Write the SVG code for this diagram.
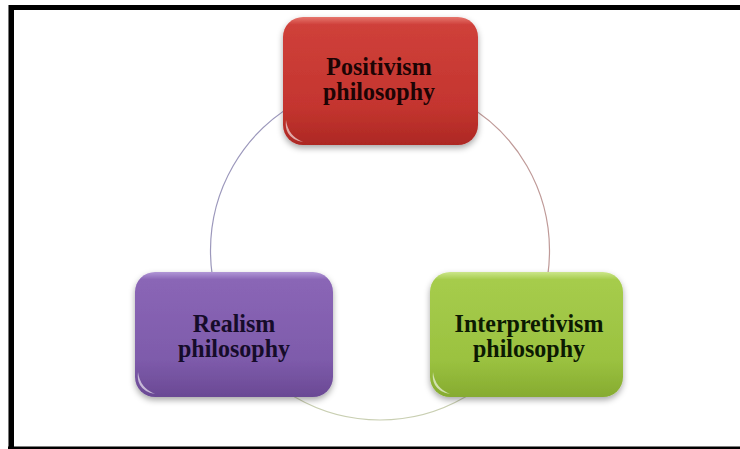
<svg xmlns="http://www.w3.org/2000/svg" width="740" height="449" viewBox="0 0 740 449">
  <defs>
    <linearGradient id="gRed" x1="0" y1="0" x2="0" y2="1">
      <stop offset="0" stop-color="#e6766e"/>
      <stop offset="0.06" stop-color="#cf403a"/>
      <stop offset="0.7" stop-color="#c4352f"/>
      <stop offset="1" stop-color="#ad2824"/>
    </linearGradient>
    <linearGradient id="gGreen" x1="0" y1="0" x2="0" y2="1">
      <stop offset="0" stop-color="#cbe68a"/>
      <stop offset="0.06" stop-color="#a6cc4c"/>
      <stop offset="0.7" stop-color="#9bc240"/>
      <stop offset="1" stop-color="#86ab30"/>
    </linearGradient>
    <linearGradient id="gPurple" x1="0" y1="0" x2="0" y2="1">
      <stop offset="0" stop-color="#b096d6"/>
      <stop offset="0.06" stop-color="#8a66b6"/>
      <stop offset="0.7" stop-color="#7e5bab"/>
      <stop offset="1" stop-color="#6a4994"/>
    </linearGradient>
    <filter id="shadow" x="-10%" y="-10%" width="120%" height="130%">
      <feDropShadow dx="0" dy="3" stdDeviation="3" flood-color="#000" flood-opacity="0.35"/>
    </filter>
  </defs>
  <style>
    .box { filter: url(#shadow); }
    .glint { fill: #ffffff; opacity: 0.6; }
    .label { font-family: "Liberation Serif", "Times New Roman", serif; font-weight: bold; font-size: 24px; text-anchor: middle; }
    .arc { fill: none; stroke-width: 1.2; }
  </style>

  <rect x="0" y="0" width="740" height="449" fill="#ffffff"/>

  <!-- page frame -->
  <g id="frame">
    <rect x="8" y="5" width="732" height="5" fill="#000"/>
    <rect x="9" y="5" width="5" height="444" fill="#000"/>
    <rect x="8" y="5" width="1" height="444" fill="#777"/>
    <rect x="8" y="446.5" width="732" height="2.5" fill="#000"/>
  </g>

  <!-- cycle arcs -->
  <g id="connectors">
    <path class="arc" stroke="#bf9a98" d="M380,81 A169.5,169.5 0 0 1 526.8,335.25"/>
    <path class="arc" stroke="#c9cfb2" d="M526.8,335.25 A169.5,169.5 0 0 1 233.2,335.25"/>
    <path class="arc" stroke="#9c98bc" d="M233.2,335.25 A169.5,169.5 0 0 1 380,81"/>
  </g>

  <g id="positivism">
    <rect class="box" x="283" y="17" width="195" height="128" rx="20" fill="url(#gRed)"/>
    <path class="glint" d="M286,120 q2,16 17,22 q-11,-2 -15,-9 q-3,-5 -2,-13z"/>
    <g transform="translate(379,75) scale(1,1.08)">
      <text class="label" fill="#1c0404"><tspan x="0" y="0">Positivism</tspan><tspan x="0" y="23.5">philosophy</tspan></text>
    </g>
  </g>

  <g id="interpretivism">
    <rect class="box" x="430" y="272" width="193" height="125" rx="20" fill="url(#gGreen)"/>
    <path class="glint" d="M433,372 q2,16 17,22 q-11,-2 -15,-9 q-3,-5 -2,-13z"/>
    <g transform="translate(529,332) scale(1,1.08)">
      <text class="label" fill="#0c1a02"><tspan x="0" y="0">Interpretivism</tspan><tspan x="0" y="23.5">philosophy</tspan></text>
    </g>
  </g>

  <g id="realism">
    <rect class="box" x="135" y="272" width="198" height="125" rx="20" fill="url(#gPurple)"/>
    <path class="glint" d="M138,372 q2,16 17,22 q-11,-2 -15,-9 q-3,-5 -2,-13z"/>
    <g transform="translate(234,332) scale(1,1.08)">
      <text class="label" fill="#160c2a"><tspan x="0" y="0">Realism</tspan><tspan x="0" y="23.5">philosophy</tspan></text>
    </g>
  </g>
</svg>
